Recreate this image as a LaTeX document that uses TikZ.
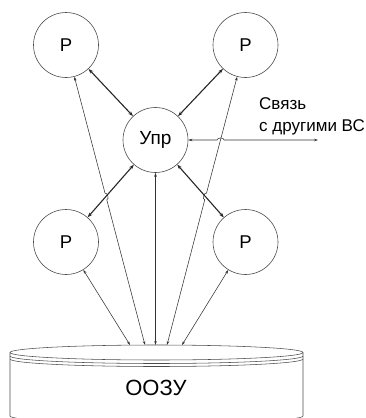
\documentclass[tikz,border=0pt]{standalone}
\usepackage{fontspec}
\setmainfont{Liberation Sans}
\usetikzlibrary{arrows.meta,calc}

\tikzset{
  proc/.style={draw=black!70, line width=0.6pt, circle, minimum size=65pt, inner sep=0pt, font=\fontsize{18.5}{20}\selectfont},
  boldlink/.style={{Stealth[length=5pt,width=3.6pt]}-{Stealth[length=5pt,width=3.6pt]}, line width=1.1pt, black!85},
  memlink/.style={{Stealth[length=4pt,width=2.6pt]}-{Stealth[length=4pt,width=2.6pt]}, line width=0.55pt, black!80},
  disk/.style={draw=black!70, line width=0.55pt},
}

\begin{document}
\begin{tikzpicture}[x=1pt,y=-1pt]
	\useasboundingbox (0,0) rectangle (366,418);
	% processors and control unit
	\node[proc] (ptl) at (66,45) {Р};
	\node[proc] (ptr) at (245.5,45) {Р};
	\node[proc, font=\fontsize{19}{21}\selectfont] (upr) at (155.5,140) {Упр};
	\node[proc] (pbl) at (66,242) {Р};
	\node[proc] (pbr) at (245.5,242) {Р};
	% shared memory
	\draw[disk] (156.5,352.5) ellipse [x radius=146.5, y radius=7.5];
	\draw[disk] (10,356) arc [start angle=180, end angle=0, x radius=146.5, y radius=7.5];
	\draw[disk] (10,359) arc [start angle=180, end angle=0, x radius=146.5, y radius=7.5];
	\draw[disk] (10,352.5) -- (10,416) arc [start angle=180, end angle=0, x radius=146.5, y radius=7.5] -- (303,352.5);
	\node[font=\fontsize{22}{24}\selectfont] (oozu) at (156,388) {ООЗУ};
	\coordinate (m1) at (130,345);
	\coordinate (m2) at (145,345);
	\coordinate (m3) at (155.5,345);
	\coordinate (m4) at (167,345);
	\coordinate (m5) at (182,345);
	% crossings
	\coordinate (j1) at (105.9,196.5);
	\coordinate (j2) at (205.6,196.5);
	\coordinate (j3) at (220.6,140);
	\coordinate (ext) at (318,140);
	% links
	\draw[boldlink] (upr) -- (ptl);
	\draw[boldlink] (upr) -- (ptr);
	\draw[boldlink] (upr) -- (pbl);
	\draw[boldlink] (upr) -- (pbr);
	\draw[memlink] (upr) -- (m3);
	\draw[memlink] (pbl) -- (m1);
	\draw[memlink] (pbr) -- (m5);
	\draw[memlink] (ptl) -- ($(j1)!3.5pt!(ptl)$) to[bend left=90] ($(j1)!3.5pt!(m2)$) -- (m2);
	\draw[memlink] (ptr) -- ($(j2)!3.5pt!(ptr)$) to[bend right=90] ($(j2)!3.5pt!(m4)$) -- (m4);
	\draw[memlink] (upr) -- ($(j3)!3.5pt!(upr)$) to[bend left=90] ($(j3)!3.5pt!(ext)$) -- (ext);
	\node[anchor=north west, align=left, inner sep=0pt, font=\fontsize{17}{22}\selectfont] (link) at (259,97) {Связь\\с другими ВС};
\end{tikzpicture}
\end{document}
